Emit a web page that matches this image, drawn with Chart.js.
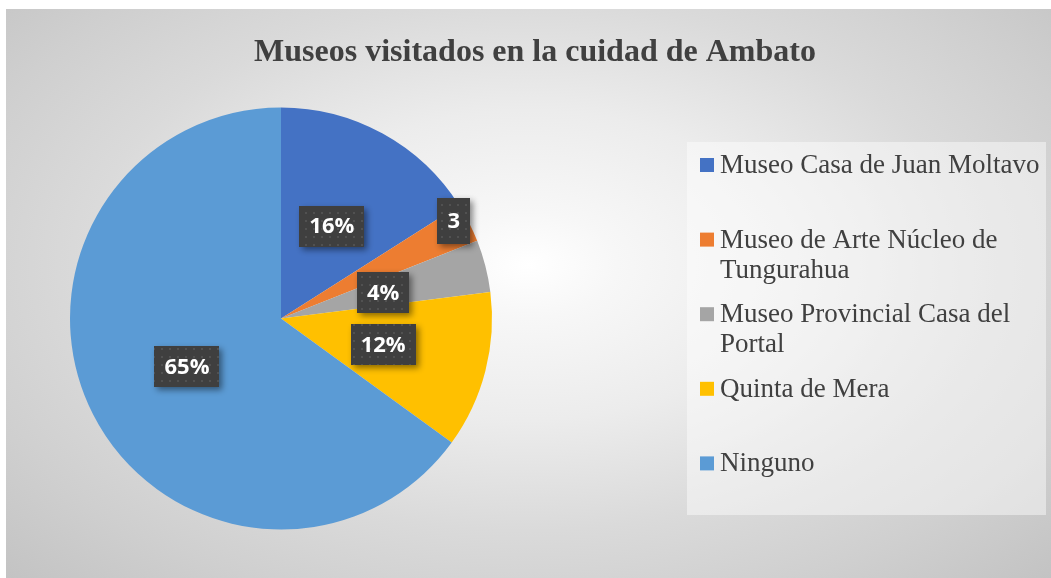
<!DOCTYPE html>
<html>
<head>
<meta charset="utf-8">
<script src="https://cdn.jsdelivr.net/npm/chart.js@4.4.1/dist/chart.umd.min.js"></script>
<style>
  body { margin: 0; background: #fff; }
  .frame {
    position: absolute;
    left: 6px;
    top: 9px;
    width: 1045px;
    height: 569px;
    background: radial-gradient(farthest-corner at 50% 45%, #ffffff 0%, #f7f7f7 12%, #ececec 35%, #dadada 60%, #cfcfcf 80%, #c3c3c3 100%);
  }
</style>
</head>
<body>
<div class="frame"><canvas id="chart"></canvas></div>
<script>
const chartTitle = 'Museos visitados en la cuidad de Ambato';
const categories = [
  'Museo Casa de Juan Moltavo',
  'Museo de Arte Núcleo de Tungurahua',
  'Museo Provincial Casa del Portal',
  'Quinta de Mera',
  'Ninguno',
];
const visits = [16, 3, 4, 12, 65];
// the second label is cut off in the original, it only shows "3"
const sliceLabels = ['16%', '3', '4%', '12%', '65%'];
const sliceColors = ['#4472C4', '#ED7D31', '#A5A5A5', '#FFC000', '#5B9BD5'];

// where each label box sits, as a share of the radius
const labelRadius = [0.5, 0.94, 0.5, 0.5, 0.5];
const labelAngleShift = [0, -2.4, 0, 0, 0];

function makeDotPattern(ctx) {
  const tile = document.createElement('canvas');
  tile.width = 8;
  tile.height = 8;
  const t = tile.getContext('2d');
  t.fillStyle = '#3f3f3f';
  t.fillRect(0, 0, 8, 8);
  t.fillStyle = '#515151';
  t.fillRect(3, 3, 2, 2);
  return ctx.createPattern(tile, 'repeat');
}

function wrapText(ctx, text, maxWidth) {
  const words = text.split(' ');
  const lines = [];
  let line = '';
  words.forEach(word => {
    const test = line ? line + ' ' + word : word;
    if (line && ctx.measureText(test).width > maxWidth) {
      lines.push(line);
      line = word;
    } else {
      line = test;
    }
  });
  lines.push(line);
  return lines;
}

const decorations = {
  id: 'decorations',
  afterDatasetsDraw(chart) {
    const {ctx} = chart;
    const meta = chart.getDatasetMeta(0);
    const pattern = makeDotPattern(ctx);

    ctx.save();
    ctx.font = 'bold 22px "Open Sans"';
    ctx.textAlign = 'center';
    ctx.textBaseline = 'middle';

    meta.data.forEach((arc, i) => {
      const {x, y, startAngle, endAngle, outerRadius} =
        arc.getProps(['x', 'y', 'startAngle', 'endAngle', 'outerRadius'], true);
      const mid = (startAngle + endAngle) / 2 + labelAngleShift[i] * Math.PI / 180;
      const r = outerRadius * labelRadius[i];
      const cx = x + Math.cos(mid) * r;
      const cy = y + Math.sin(mid) * r;
      const text = sliceLabels[i];
      const w = Math.round(ctx.measureText(text).width + 20);
      const h = i === 1 ? 46 : 41;

      ctx.save();
      ctx.shadowColor = 'rgba(0, 0, 0, 0.45)';
      ctx.shadowBlur = 6;
      ctx.shadowOffsetX = 3;
      ctx.shadowOffsetY = 3;
      ctx.fillStyle = pattern;
      ctx.fillRect(Math.round(cx - w / 2), Math.round(cy - h / 2), w, h);
      ctx.restore();

      ctx.fillStyle = '#ffffff';
      ctx.fillText(text, cx, cy + 1);
    });
    ctx.restore();
  },
  afterDraw(chart) {
    const {ctx} = chart;
    ctx.save();

    // title
    ctx.fillStyle = '#404040';
    ctx.font = 'bold 32px "Liberation Serif"';
    ctx.textAlign = 'center';
    ctx.textBaseline = 'alphabetic';
    ctx.fillText(chartTitle, 529, 52);

    // legend
    ctx.fillStyle = 'rgba(255, 255, 255, 0.45)';
    ctx.fillRect(681, 133, 359, 373);

    ctx.font = '27px "Liberation Serif"';
    ctx.textAlign = 'left';
    categories.forEach((label, i) => {
      const baseline = 164 + i * 74.6;
      ctx.fillStyle = sliceColors[i];
      ctx.fillRect(694, baseline - 15, 14, 14);
      ctx.fillStyle = '#404040';
      wrapText(ctx, label, 330).forEach((line, j) => {
        ctx.fillText(line, 714, baseline + j * 30);
      });
    });
    ctx.restore();
  },
};

new Chart(document.getElementById('chart'), {
  type: 'pie',
  data: {
    labels: categories,
    datasets: [{
      data: visits,
      backgroundColor: sliceColors,
      borderWidth: 0,
    }],
  },
  options: {
    responsive: true,
    maintainAspectRatio: false,
    animation: false,
    layout: {
      padding: {top: 98, bottom: 48, left: 64, right: 559},
    },
    plugins: {
      legend: {display: false},
      title: {display: false},
      tooltip: {enabled: false},
    },
  },
  plugins: [decorations],
});
</script>
</body>
</html>
